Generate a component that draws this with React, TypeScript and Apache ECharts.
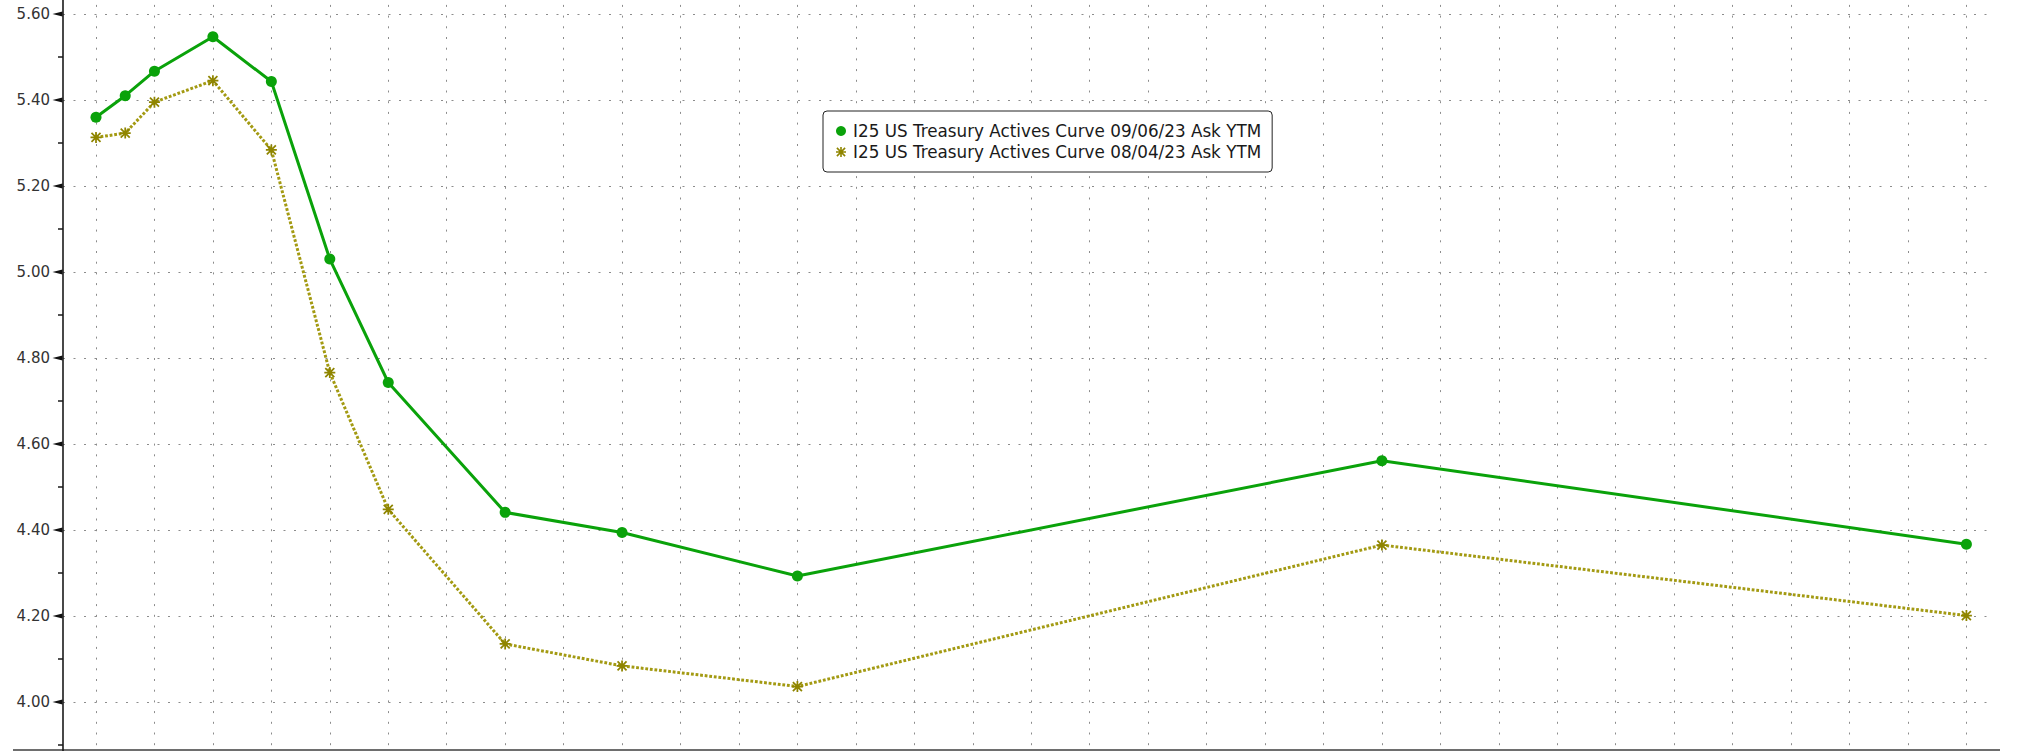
import React, { useEffect, useRef } from "react";
import * as echarts from "echarts";

// Tenors and their positions on the (Bloomberg-style) maturity axis
const tenors = ["1M", "2M", "3M", "6M", "1Y", "2Y", "3Y", "5Y", "7Y", "10Y", "20Y", "30Y"];
const tenorPos = [0, 0.5, 1, 2, 3, 4, 5, 7, 9, 12, 22, 32];

// Ask YTM values
const ytm0906 = [5.36, 5.41, 5.467, 5.547, 5.443, 5.03, 4.743, 4.441, 4.394, 4.293, 4.561, 4.367];
const ytm0804 = [5.313, 5.323, 5.395, 5.445, 5.284, 4.766, 4.448, 4.135, 4.084, 4.036, 4.365, 4.201];

// Axis ticks
const yTickValues = [4.0, 4.2, 4.4, 4.6, 4.8, 5.0, 5.2, 5.4, 5.6];
const xGridLines = [0, 1, 2, 3, 4, 5, 6, 7, 8, 9, 10, 11, 12, 13, 14, 15, 16, 17, 18, 19, 20, 21, 22, 23, 24, 25, 26, 27, 28, 29, 30, 31, 32];

const seriesNames = [
  "I25 US Treasury Actives Curve 09/06/23 Ask YTM",
  "I25 US Treasury Actives Curve 08/04/23 Ask YTM",
];

const X_MIN = -0.5646;
const X_MAX = 32.455;

const asterisk =
  "path://M0 4.2H10V5.8H0Z M4.2 0H5.8V10H4.2Z M1.466 0.334L9.666 8.534L8.534 9.666L0.334 1.466Z M9.666 1.466L1.466 9.666L0.334 8.534L8.534 0.334Z";

const GREEN = "#0aa20a";
const OLIVE = "#a39a12";
const OLIVE_MARK = "#8f8500";
const GRID_COLOR = "#8c8c8c";

export default function App() {
  const ref = useRef<HTMLDivElement>(null);

  useEffect(() => {
    document.body.style.margin = "0";
    const chart = echarts.init(ref.current!, null, { renderer: "svg" });
    const option: any = {
      animation: false,
      backgroundColor: "#ffffff",
      textStyle: { fontFamily: "DejaVu Sans" },
      grid: {
        left: 63,
        right: 24,
        top: -72,
        bottom: -37,
        containLabel: false,
        outerBoundsMode: "none",
      },
      legend: {
        orient: "vertical",
        left: 823,
        top: 111,
        padding: [11, 11, 11, 13],
        itemGap: 3,
        itemWidth: 14,
        itemHeight: 10,
        selectedMode: false,
        backgroundColor: "#ffffff",
        borderColor: "#222222",
        borderWidth: 1,
        borderRadius: 4,
        textStyle: { fontFamily: "DejaVu Sans", fontSize: 16.8, lineHeight: 18, color: "#1a1a1a" },
        data: [
          { name: seriesNames[0], icon: "circle", itemStyle: { color: GREEN } },
          { name: seriesNames[1], icon: asterisk, itemStyle: { color: OLIVE_MARK } },
        ],
      },
      xAxis: {
        type: "value",
        min: X_MIN,
        max: X_MAX,
        axisLine: { show: false },
        axisTick: { show: false },
        axisLabel: { show: false },
        splitLine: { show: false },
      },
      yAxis: {
        type: "value",
        min: 3.8,
        max: 5.8,
        interval: 0.2,
        axisLine: { show: true, onZero: false, lineStyle: { color: "#1a1a1a", width: 1.6 } },
        axisTick: { show: false },
        minorTick: { show: true, splitNumber: 2, length: 5, lineStyle: { color: "#1a1a1a", width: 1.5 } },
        axisLabel: {
          margin: 13,
          showMinLabel: false,
          showMaxLabel: false,
          fontFamily: "DejaVu Sans",
          fontSize: 15,
          color: "#333333",
          formatter: (v: number) => v.toFixed(2),
        },
        splitLine: { show: true, lineStyle: { color: GRID_COLOR, width: 1, type: [2, 8.5] } },
        minorSplitLine: { show: false },
      },
      graphic: [
        {
          type: "line",
          shape: { x1: 13, y1: 750, x2: 2000, y2: 750 },
          style: { stroke: "#6e6e6e", lineWidth: 2 },
          silent: true,
        },
      ],
      series: [
        {
          name: "grid",
          type: "line",
          data: [],
          clip: false,
          silent: true,
          z: 1,
          markLine: {
            z: 1,
            silent: true,
            symbol: ["none", "none"],
            label: { show: false },
            emphasis: { disabled: true },
            lineStyle: { color: GRID_COLOR, width: 1, type: [2, 8.7] },
            data: xGridLines.map((v) => ({ xAxis: v })),
          },
          markPoint: {
            z: 3,
            silent: true,
            symbol: "triangle",
            symbolSize: [5, 10],
            symbolRotate: 90,
            symbolOffset: [-5.5, 0],
            label: { show: false },
            itemStyle: { color: "#111111" },
            data: yTickValues.map((v) => ({ coord: [X_MIN, v] })),
          },
        },
        {
          name: seriesNames[0],
          type: "line",
          z: 4,
          data: tenorPos.map((p, i) => [p, ytm0906[i], tenors[i]]),
          symbol: "circle",
          symbolSize: 11,
          showAllSymbol: true,
          itemStyle: { color: GREEN },
          lineStyle: { color: GREEN, width: 3 },
        },
        {
          name: seriesNames[1],
          type: "line",
          z: 3,
          data: tenorPos.map((p, i) => [p, ytm0804[i], tenors[i]]),
          symbol: asterisk,
          symbolSize: 11,
          showAllSymbol: true,
          itemStyle: { color: OLIVE_MARK },
          lineStyle: { color: OLIVE, width: 3, type: [2.8, 1.8] },
        },
      ],
    };
    chart.setOption(option);
    return () => chart.dispose();
  }, []);

  return (
    <div
      ref={ref}
      style={{ position: "absolute", left: 0, top: 0, width: 2017, height: 751 }}
    />
  );
}
